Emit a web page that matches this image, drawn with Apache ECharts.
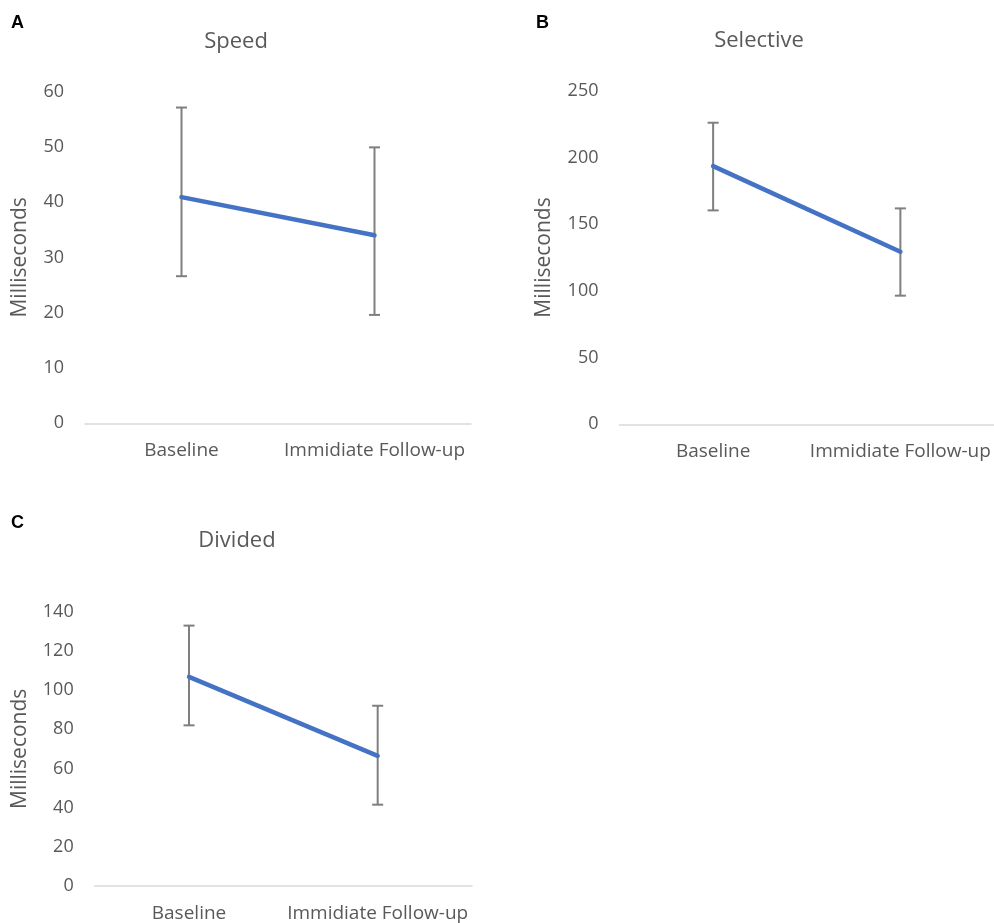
<!DOCTYPE html>
<html>
<head>
<meta charset="utf-8">
<script src="https://cdn.jsdelivr.net/npm/echarts@6/dist/echarts.min.js"></script>
<style>
html,body{margin:0;padding:0;background:#fff;}
#chart{width:994px;height:923px;}
</style>
</head>
<body>
<div id="chart"></div>
<script>
// ---- data ----
const categories = ['Baseline', 'Immidiate Follow-up'];
const panelTitles = ['Speed', 'Selective', 'Divided'];
const panelLetters = ['A', 'B', 'C'];
const speedMean = [40.9, 34.0];
const speedUpper = [57.1, 49.9];
const speedLower = [26.6, 19.6];
const selectiveMean = [193.5, 129.3];
const selectiveUpper = [226.0, 161.8];
const selectiveLower = [160.3, 96.4];
const dividedMean = [106.7, 66.4];
const dividedUpper = [132.9, 92.0];
const dividedLower = [82.0, 41.5];
const yMax = [60, 250, 140];
const yInterval = [10, 50, 20];

const means = [speedMean, selectiveMean, dividedMean];
const uppers = [speedUpper, selectiveUpper, dividedUpper];
const lowers = [speedLower, selectiveLower, dividedLower];

const FONT = 'Open Sans';
const GRAY = '#595959';

const grids = [
  {left: 85, width: 386, top: 91.5, height: 331.8},
  {left: 619.5, width: 375.4, top: 90.7, height: 333.6},
  {left: 94.7, width: 377.3, top: 611.7, height: 274.3}
];
const nameGaps = [54, 65, 64];

const titles = [
  {text: panelTitles[0], left: 236, top: 31},
  {text: panelTitles[1], left: 759, top: 30},
  {text: panelTitles[2], left: 237, top: 530}
].map(t => ({
  text: t.text, left: t.left, top: t.top, textAlign: 'center', padding: 0,
  textStyle: {fontFamily: FONT, fontSize: 22, fontWeight: 'normal', color: GRAY}
}));

const letterPos = [[11, 14], [536, 14], [11, 514]];
const letters = letterPos.map((p, i) => ({
  type: 'text', left: p[0], top: p[1],
  style: {text: panelLetters[i], font: 'bold 18px "Liberation Sans", Arial, sans-serif', fill: '#000'}
}));

const xAxes = grids.map((g, i) => ({
  type: 'category', gridIndex: i, data: categories, boundaryGap: true,
  axisLine: {show: true, lineStyle: {color: '#D9D9D9', width: 1.5}},
  axisTick: {show: false},
  axisLabel: {fontFamily: FONT, fontSize: 19, color: GRAY, margin: 18, interval: 0},
  splitLine: {show: false}
}));

const yAxes = grids.map((g, i) => ({
  type: 'value', gridIndex: i, min: 0, max: yMax[i], interval: yInterval[i],
  name: 'Milliseconds', nameLocation: 'middle', nameGap: nameGaps[i],
  nameTextStyle: {fontFamily: FONT, fontSize: 21, color: GRAY},
  axisLine: {show: false}, axisTick: {show: false},
  axisLabel: {fontFamily: FONT, fontSize: 18, color: GRAY, margin: 21},
  splitLine: {show: false}
}));

const series = [];
means.forEach((m, i) => {
  series.push({
    type: 'custom', xAxisIndex: i, yAxisIndex: i, z: 1,
    data: m.map((v, k) => [k, lowers[i][k], uppers[i][k]]),
    renderItem: function (params, api) {
      const lo = api.coord([api.value(0), api.value(1)]);
      const hi = api.coord([api.value(0), api.value(2)]);
      const hw = 5.5;
      const style = {stroke: '#7F7F7F', lineWidth: 2};
      return {
        type: 'group',
        children: [
          {type: 'line', shape: {x1: lo[0], y1: lo[1], x2: hi[0], y2: hi[1]}, style: style},
          {type: 'line', shape: {x1: lo[0] - hw, y1: lo[1], x2: lo[0] + hw, y2: lo[1]}, style: style},
          {type: 'line', shape: {x1: hi[0] - hw, y1: hi[1], x2: hi[0] + hw, y2: hi[1]}, style: style}
        ]
      };
    }
  });
  series.push({
    type: 'line', xAxisIndex: i, yAxisIndex: i, z: 3,
    data: m, showSymbol: false, symbol: 'none',
    lineStyle: {color: '#4472C4', width: 4.5, cap: 'round'}
  });
});

const chart = echarts.init(document.getElementById('chart'), null, {renderer: 'canvas'});
chart.setOption({
  backgroundColor: '#fff',
  animation: false,
  title: titles,
  graphic: letters,
  grid: grids,
  xAxis: xAxes,
  yAxis: yAxes,
  series: series
});
</script>
</body>
</html>
